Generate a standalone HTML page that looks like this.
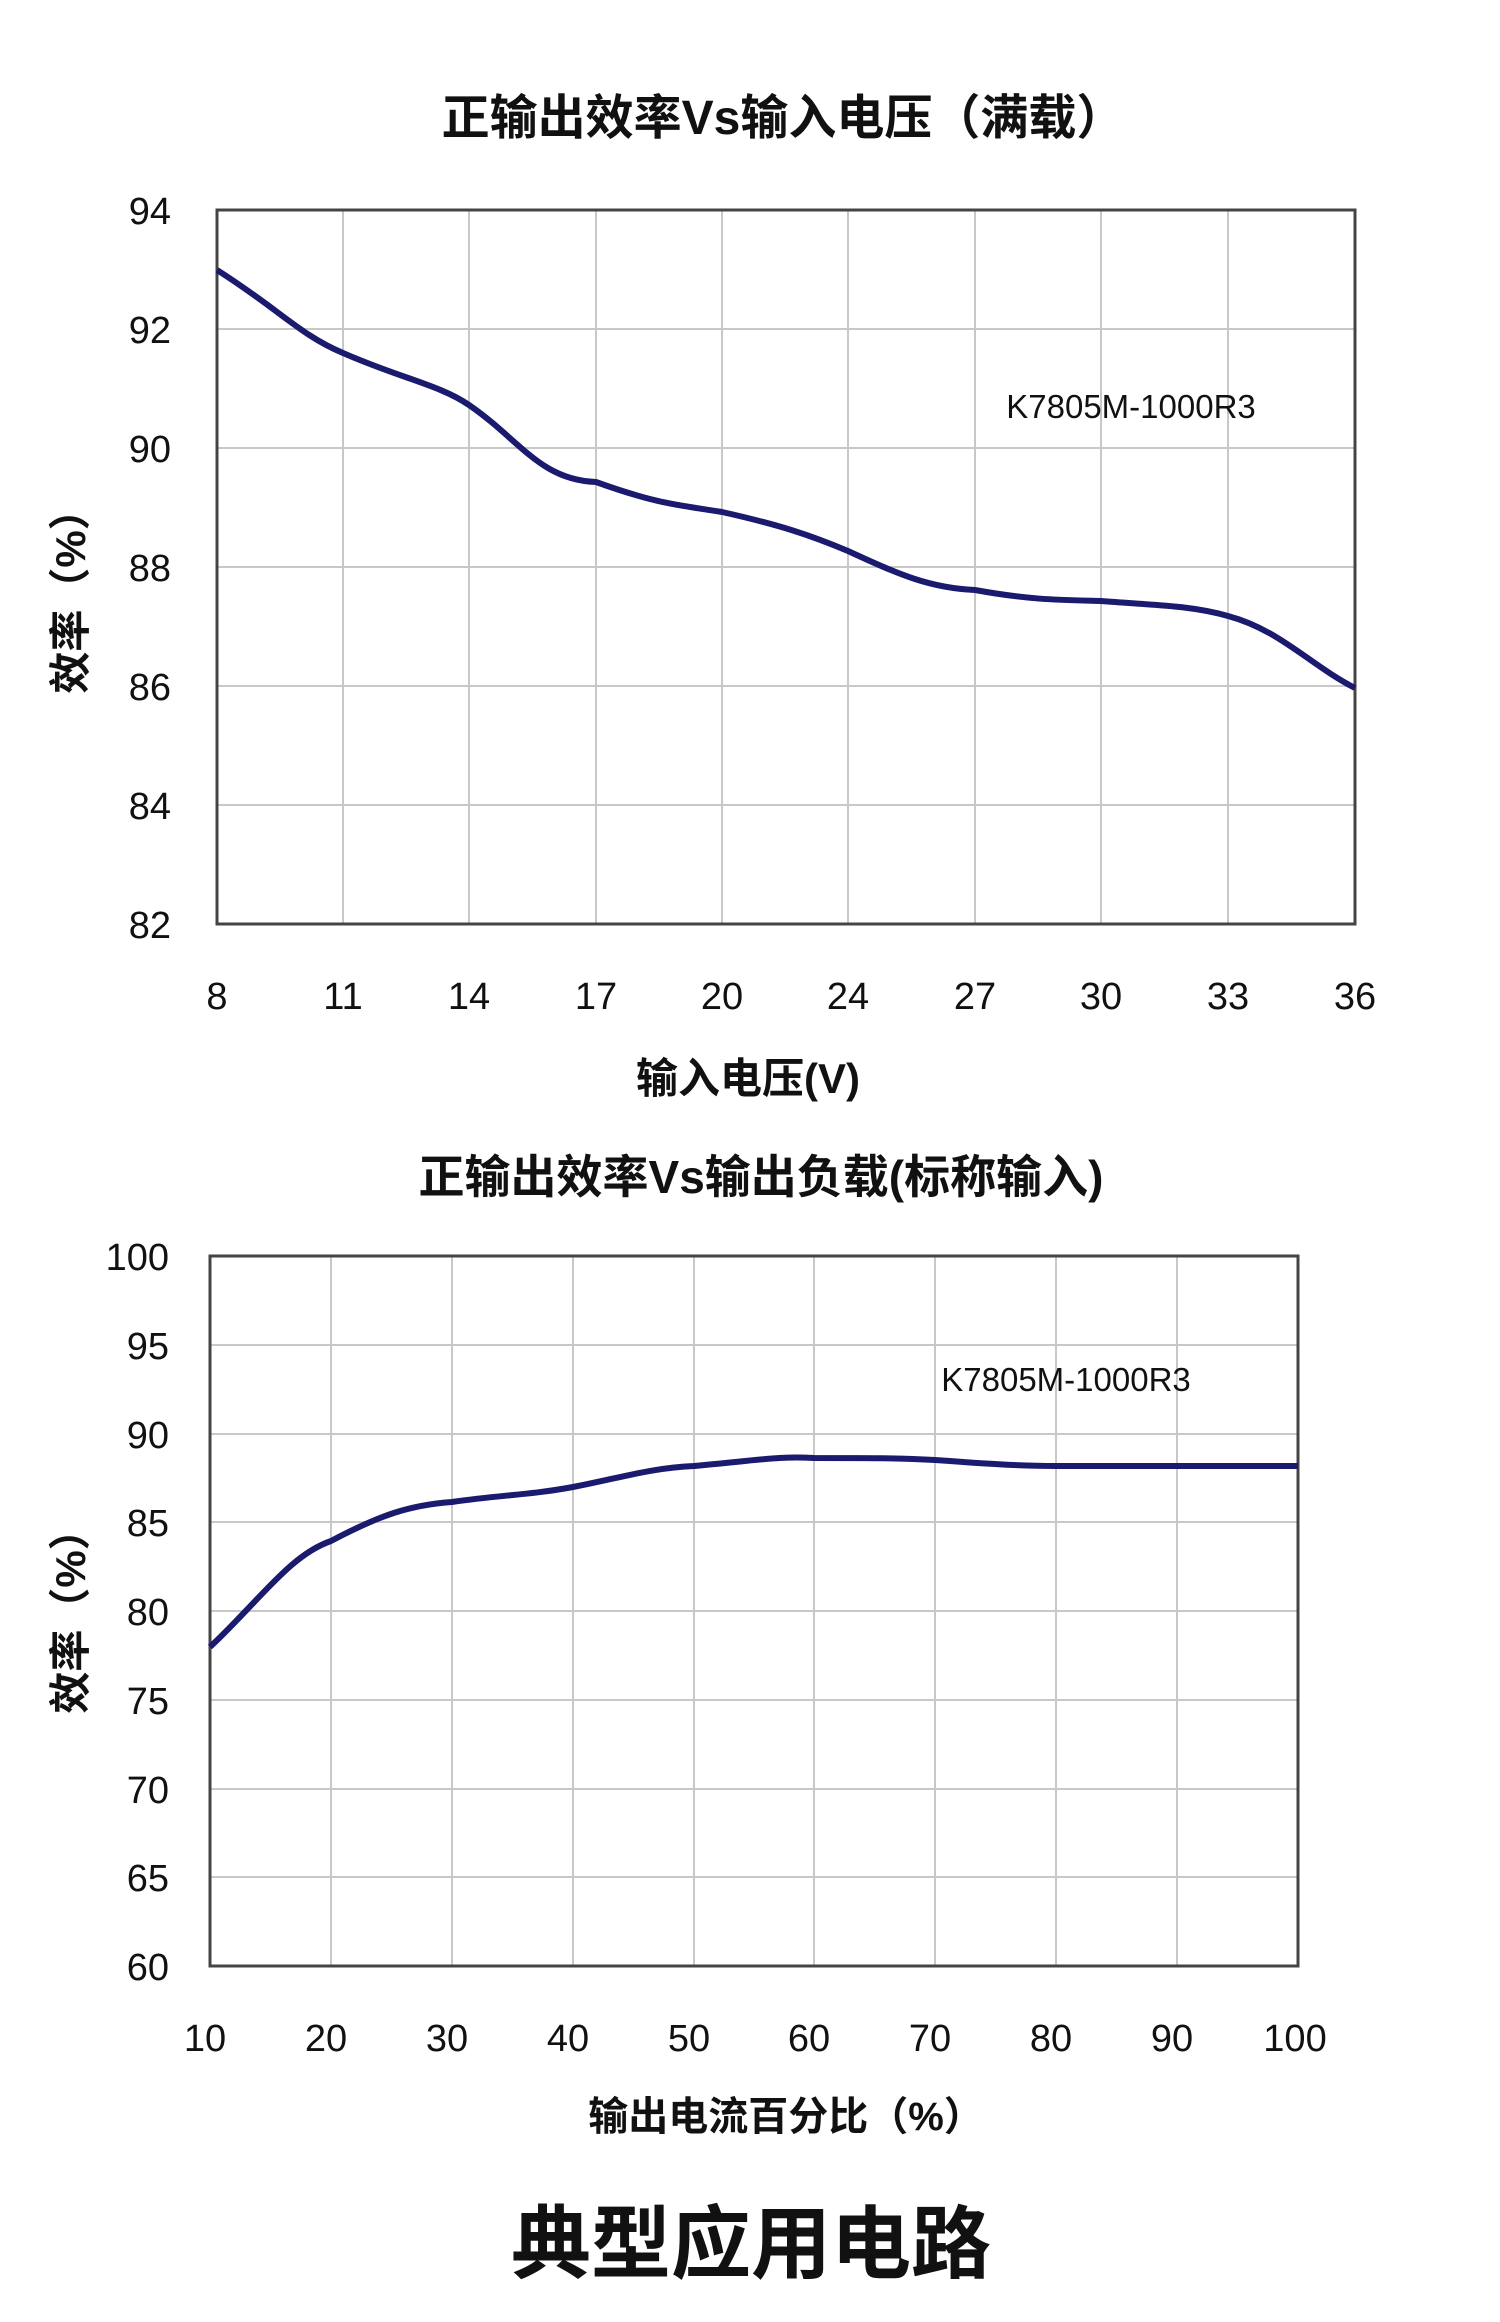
<!DOCTYPE html>
<html><head><meta charset="utf-8"><style>
html,body{margin:0;padding:0;background:#fff;}
svg{display:block;}
text{font-family:"Liberation Sans","Noto Sans CJK SC",sans-serif;fill:#111;}
</style></head><body>
<svg width="1500" height="2322" viewBox="0 0 1500 2322" xmlns="http://www.w3.org/2000/svg">
<!-- Chart 1 -->
<text x="783" y="134" font-size="48" font-weight="bold" text-anchor="middle">正输出效率Vs输入电压（满载）</text>
<g stroke="#c8c8c8" stroke-width="2">
<line x1="343" y1="210" x2="343" y2="924"/><line x1="469" y1="210" x2="469" y2="924"/><line x1="596" y1="210" x2="596" y2="924"/><line x1="722" y1="210" x2="722" y2="924"/><line x1="848" y1="210" x2="848" y2="924"/><line x1="975" y1="210" x2="975" y2="924"/><line x1="1101" y1="210" x2="1101" y2="924"/><line x1="1228" y1="210" x2="1228" y2="924"/>
<line x1="217" y1="329" x2="1355" y2="329"/><line x1="217" y1="448" x2="1355" y2="448"/><line x1="217" y1="567" x2="1355" y2="567"/><line x1="217" y1="686" x2="1355" y2="686"/><line x1="217" y1="805" x2="1355" y2="805"/>
</g>
<rect x="217" y="210" width="1138" height="714" fill="none" stroke="#444" stroke-width="3"/>
<path d="M217,270 C280,310 300,335 343,353 C400,378 440,385 469,405 C520,440 540,480 596,482 C660,505 680,505 722,512 C780,525 810,535 848,551 C900,575 930,588 975,590 C1030,600 1060,600 1101,601 C1150,605 1190,605 1228,616 C1280,630 1310,665 1355,688" fill="none" stroke="#1a1a6e" stroke-width="6"/>
<g font-size="38" text-anchor="end">
<text x="171" y="224">94</text><text x="171" y="343">92</text><text x="171" y="462">90</text><text x="171" y="581">88</text><text x="171" y="700">86</text><text x="171" y="819">84</text><text x="171" y="938">82</text>
</g>
<g font-size="38" text-anchor="middle">
<text x="217" y="1009">8</text><text x="343" y="1009">11</text><text x="469" y="1009">14</text><text x="596" y="1009">17</text><text x="722" y="1009">20</text><text x="848" y="1009">24</text><text x="975" y="1009">27</text><text x="1101" y="1009">30</text><text x="1228" y="1009">33</text><text x="1355" y="1009">36</text>
</g>
<text x="748" y="1093" font-size="42" font-weight="bold" text-anchor="middle">输入电压(V)</text>
<text transform="translate(85,591) rotate(-90)" font-size="42" font-weight="bold" text-anchor="middle">效率（%）</text>
<text x="1131" y="418" font-size="33" text-anchor="middle">K7805M-1000R3</text>

<!-- Chart 2 -->
<text x="761" y="1193" font-size="46" font-weight="bold" text-anchor="middle">正输出效率Vs输出负载(标称输入)</text>
<g stroke="#c8c8c8" stroke-width="2">
<line x1="331" y1="1256" x2="331" y2="1966"/><line x1="452" y1="1256" x2="452" y2="1966"/><line x1="573" y1="1256" x2="573" y2="1966"/><line x1="694" y1="1256" x2="694" y2="1966"/><line x1="814" y1="1256" x2="814" y2="1966"/><line x1="935" y1="1256" x2="935" y2="1966"/><line x1="1056" y1="1256" x2="1056" y2="1966"/><line x1="1177" y1="1256" x2="1177" y2="1966"/>
<line x1="210" y1="1345" x2="1298" y2="1345"/><line x1="210" y1="1434" x2="1298" y2="1434"/><line x1="210" y1="1522" x2="1298" y2="1522"/><line x1="210" y1="1611" x2="1298" y2="1611"/><line x1="210" y1="1700" x2="1298" y2="1700"/><line x1="210" y1="1789" x2="1298" y2="1789"/><line x1="210" y1="1877" x2="1298" y2="1877"/>
</g>
<rect x="210" y="1256" width="1088" height="710" fill="none" stroke="#444" stroke-width="3"/>
<path d="M210,1647 C260,1600 290,1555 331,1541 C380,1515 410,1505 452,1502 C500,1495 530,1495 573,1487 C620,1478 650,1468 694,1466 C760,1460 780,1456 814,1458 C870,1458 900,1458 935,1460 C990,1464 1020,1466 1056,1466 C1120,1466 1200,1466 1298,1466" fill="none" stroke="#1a1a6e" stroke-width="6"/>
<g font-size="38" text-anchor="end">
<text x="169" y="1270">100</text><text x="169" y="1359">95</text><text x="169" y="1448">90</text><text x="169" y="1536">85</text><text x="169" y="1625">80</text><text x="169" y="1714">75</text><text x="169" y="1803">70</text><text x="169" y="1891">65</text><text x="169" y="1980">60</text>
</g>
<g font-size="38" text-anchor="middle">
<text x="205" y="2051">10</text><text x="326" y="2051">20</text><text x="447" y="2051">30</text><text x="568" y="2051">40</text><text x="689" y="2051">50</text><text x="809" y="2051">60</text><text x="930" y="2051">70</text><text x="1051" y="2051">80</text><text x="1172" y="2051">90</text><text x="1295" y="2051">100</text>
</g>
<text x="786" y="2130" font-size="40" font-weight="bold" text-anchor="middle">输出电流百分比（%）</text>
<text transform="translate(85,1611) rotate(-90)" font-size="42" font-weight="bold" text-anchor="middle">效率（%）</text>
<text x="1066" y="1391" font-size="33" text-anchor="middle">K7805M-1000R3</text>

<text x="751" y="2272" font-size="80" font-weight="bold" text-anchor="middle">典型应用电路</text>
</svg>
</body></html>
